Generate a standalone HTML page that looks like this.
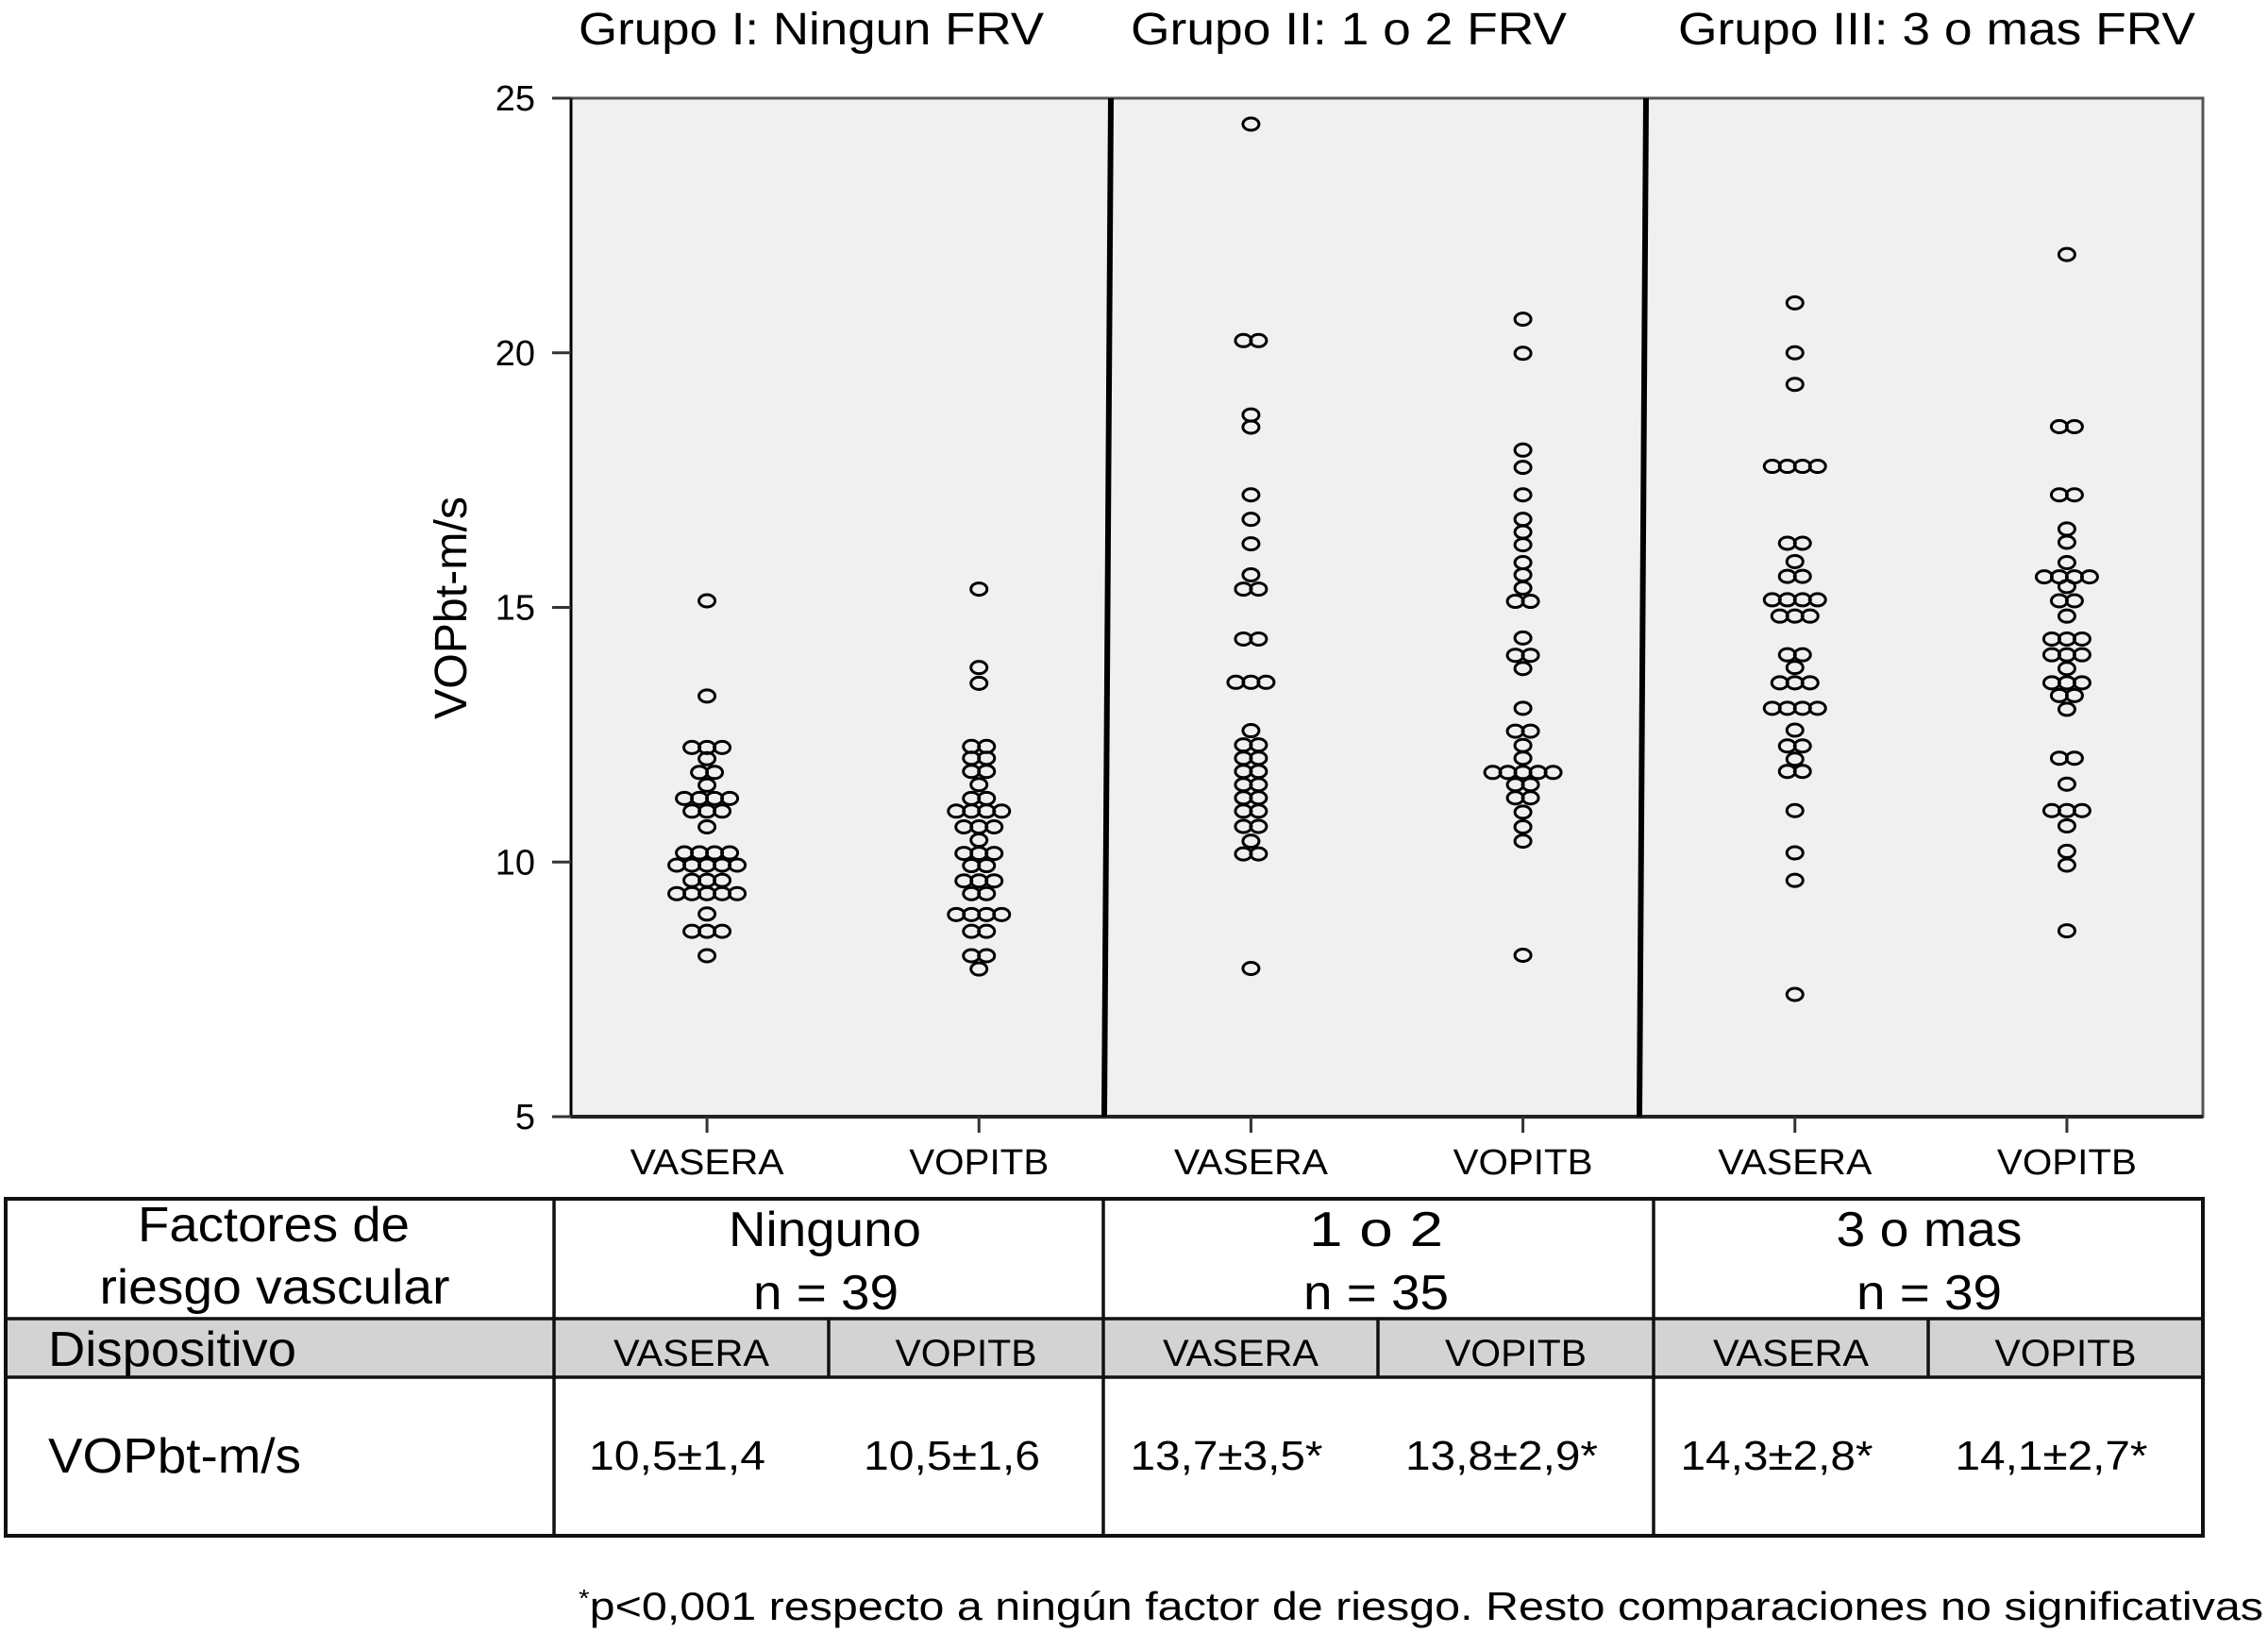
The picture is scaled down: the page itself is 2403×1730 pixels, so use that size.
<!DOCTYPE html>
<html><head><meta charset="utf-8"><style>
html,body{margin:0;padding:0;background:#fff;}
svg{display:block;font-family:"Liberation Sans",sans-serif;}
</style></head><body>
<svg id="chart" width="2403" height="1730" viewBox="0 0 2403 1730" xmlns="http://www.w3.org/2000/svg">
<rect x="0" y="0" width="2403" height="1730" fill="#fff"/>
<g font-size="48" fill="#000">
<text x="613" y="47" textLength="493" lengthAdjust="spacingAndGlyphs">Grupo I: Ningun FRV</text>
<text x="1198" y="47" textLength="462" lengthAdjust="spacingAndGlyphs">Grupo II: 1 o 2 FRV</text>
<text x="1778" y="47" textLength="548" lengthAdjust="spacingAndGlyphs">Grupo III: 3 o mas FRV</text>
</g>
<rect x="605" y="104" width="1729" height="1079" fill="#f0f0f0" stroke="#555" stroke-width="3"/>
<line x1="605" y1="104" x2="605" y2="1183" stroke="#000" stroke-width="3"/>
<line x1="605" y1="1183" x2="2334" y2="1183" stroke="#222" stroke-width="4"/>
<line x1="1177" y1="104" x2="1170" y2="1183" stroke="#000" stroke-width="6"/>
<line x1="1744" y1="104" x2="1737" y2="1183" stroke="#000" stroke-width="6"/>
<text transform="translate(494,644) rotate(-90)" text-anchor="middle" font-size="48" textLength="236" lengthAdjust="spacingAndGlyphs">VOPbt-m/s</text>
<g id="yticks"></g>
<g id="xticks"></g>
<g id="dots"></g>

<g>
<rect x="6" y="1397" width="2328" height="62" fill="#d3d3d3"/>
<rect x="6" y="1270" width="2328" height="357" fill="none" stroke="#111" stroke-width="4"/>
<g stroke="#111" stroke-width="3.5">
<line x1="6" y1="1397" x2="2334" y2="1397"/>
<line x1="6" y1="1459" x2="2334" y2="1459"/>
<line x1="587" y1="1270" x2="587" y2="1627"/>
<line x1="1169" y1="1270" x2="1169" y2="1627"/>
<line x1="1752" y1="1270" x2="1752" y2="1627"/>
<line x1="878" y1="1397" x2="878" y2="1459"/>
<line x1="1460" y1="1397" x2="1460" y2="1459"/>
<line x1="2043" y1="1397" x2="2043" y2="1459"/>
</g>
<g font-size="52" text-anchor="middle">
<text x="290" y="1315" textLength="288" lengthAdjust="spacingAndGlyphs">Factores de</text>
<text x="291" y="1381" textLength="371" lengthAdjust="spacingAndGlyphs">riesgo vascular</text>
<text x="874" y="1320" textLength="204" lengthAdjust="spacingAndGlyphs">Ninguno</text>
<text x="875" y="1387" textLength="154" lengthAdjust="spacingAndGlyphs">n = 39</text>
<text x="1458" y="1320" textLength="142" lengthAdjust="spacingAndGlyphs">1 o 2</text>
<text x="1458" y="1387" textLength="154" lengthAdjust="spacingAndGlyphs">n = 35</text>
<text x="2044" y="1320" textLength="197" lengthAdjust="spacingAndGlyphs">3 o mas</text>
<text x="2044" y="1387" textLength="154" lengthAdjust="spacingAndGlyphs">n = 39</text>
</g>
<text x="51" y="1447" font-size="52" textLength="263" lengthAdjust="spacingAndGlyphs">Dispositivo</text>
<text x="51" y="1560" font-size="52" textLength="268" lengthAdjust="spacingAndGlyphs">VOPbt-m/s</text>
<g id="tablecells" font-size="42" text-anchor="middle"></g>
</g>
<text x="613" y="1716" font-size="42" textLength="1785" lengthAdjust="spacingAndGlyphs"><tspan font-size="26" dy="-14">*</tspan><tspan dy="14">p&lt;0,001 respecto a ningún factor de riesgo. Resto comparaciones no significativas</tspan></text>
</svg>
<script>
const yTicks = [25, 20, 15, 10, 5];
const categories = ["VASERA", "VOPITB", "VASERA", "VOPITB", "VASERA", "VOPITB"];
const g1VASERA = [15.13,13.26,12.25,12.25,12.25,12.03,11.76,11.76,11.51,11.25,11.25,11.25,11.25,11.0,11.0,11.0,10.69,10.18,10.18,10.18,10.18,9.94,9.94,9.94,9.94,9.94,9.64,9.64,9.64,9.38,9.38,9.38,9.38,9.38,8.98,8.64,8.64,8.64,8.16];
const g1VOPITB = [15.36,13.82,13.51,12.27,12.27,12.04,12.04,11.78,11.78,11.52,11.25,11.25,11.0,11.0,11.0,11.0,10.69,10.69,10.69,10.43,10.17,10.17,10.17,9.93,9.93,9.63,9.63,9.63,9.38,9.38,8.97,8.97,8.97,8.97,8.64,8.64,8.16,8.16,7.90];
const g2VASERA = [24.49,20.24,20.24,18.78,18.54,17.21,16.73,16.25,15.64,15.36,15.36,14.38,14.38,13.53,13.53,13.53,12.58,12.30,12.30,12.04,12.04,11.78,11.78,11.52,11.52,11.26,11.26,11.0,11.0,10.70,10.70,10.41,10.16,10.16,7.91];
const g2VOPITB = [20.66,19.99,18.09,17.75,17.21,16.73,16.48,16.23,15.88,15.64,15.38,15.12,15.12,14.40,14.06,14.06,13.80,13.02,12.57,12.57,12.29,12.04,11.76,11.76,11.76,11.76,11.76,11.52,11.52,11.26,11.26,10.98,10.69,10.41,8.17];
const g3VASERA = [20.98,20.0,19.38,17.77,17.77,17.77,17.77,16.26,16.26,15.90,15.61,15.61,15.15,15.15,15.15,15.15,14.83,14.83,14.83,14.07,14.07,13.82,13.52,13.52,13.52,13.02,13.02,13.02,13.02,12.59,12.28,12.28,12.02,11.78,11.78,11.01,10.18,9.64,7.40];
const g3VOPITB = [21.93,18.55,18.55,17.21,17.21,16.54,16.28,15.88,15.60,15.60,15.60,15.60,15.41,15.13,15.13,14.83,14.38,14.38,14.38,14.07,14.07,14.07,13.80,13.52,13.52,13.52,13.27,13.27,13.0,12.04,12.04,11.53,11.01,11.01,11.01,10.71,10.21,9.94,8.65];
const series = [g1VASERA, g1VOPITB, g2VASERA, g2VOPITB, g3VASERA, g3VOPITB];
const tableValues = ["10,5±1,4","10,5±1,6","13,7±3,5*","13,8±2,9*","14,3±2,8*","14,1±2,7*"];

const NS = "http://www.w3.org/2000/svg";
const plotLeft = 605, plotRight = 2334, yTop = 104, yBot = 1183, vMax = 25, vMin = 5;
function yScale(v){ return yTop + (vMax - v) * (yBot - yTop) / (vMax - vMin); }
const colW = (plotRight - plotLeft) / 6;
function xScale(i){ return plotLeft + colW * (i + 0.5) - 2 * (i % 2 === 0 ? -1 : 1) * 0 ; }
function mk(tag, attrs, parent){ const e = document.createElementNS(NS, tag); for (const k in attrs) e.setAttribute(k, attrs[k]); parent.appendChild(e); return e; }

const yg = document.getElementById('yticks');
yTicks.forEach(t => {
  const y = yScale(t);
  const l = mk('line', {x1: 585, x2: 605, y1: y, y2: y, stroke: '#333', 'stroke-width': 3}, yg);
  
  
  const tx = mk('text', {x: 567, y: y + 13, 'text-anchor': 'end', 'font-size': 38}, yg);
  tx.textContent = t;
  
  
});

const xg = document.getElementById('xticks');
categories.forEach((c, i) => {
  const x = xScale(i);
  const l = mk('line', {x1: x, x2: x, y1: 1183, y2: 1200, stroke: '#333', 'stroke-width': 3}, xg);
  
  
  const tx = mk('text', {x: x, y: 1244, 'text-anchor': 'middle', 'font-size': 38, textLength: c === 'VASERA' ? 163 : 148, lengthAdjust: 'spacingAndGlyphs'}, xg);
  tx.textContent = c;
  
  
});

const dg = document.getElementById('dots');
const dotSpacing = 16;
series.forEach((vals, i) => {
  const cx = xScale(i);
  const groups = {};
  vals.forEach(v => { const k = v.toFixed(2); (groups[k] = groups[k] || []).push(v); });
  Object.keys(groups).forEach(k => {
    const arr = groups[k];
    arr.forEach((v, j) => {
      const off = (j - (arr.length - 1) / 2) * dotSpacing;
      const e = mk('ellipse', {cx: cx + off, cy: yScale(v), rx: 8.5, ry: 6.5, fill: 'none', stroke: '#000', 'stroke-width': 3}, dg);
      
      
    });
  });
});

const tc = document.getElementById('tablecells');
const subCols = [587, 878, 1169, 1460, 1752, 2043, 2334];
categories.forEach((c, i) => {
  const cx = (subCols[i] + subCols[i + 1]) / 2;
  const t = mk('text', {x: cx, y: 1447, 'font-size': 40, textLength: c === 'VASERA' ? 165 : 150, lengthAdjust: 'spacingAndGlyphs'}, tc);
  t.textContent = c;
  
  
  const v = tableValues[i];
  const t2 = mk('text', {x: cx - 15, y: 1557, 'font-size': 44, textLength: v.endsWith('*') ? 204 : 187, lengthAdjust: 'spacingAndGlyphs'}, tc);
  t2.textContent = v;
  
  
});
</script>
</body></html>
